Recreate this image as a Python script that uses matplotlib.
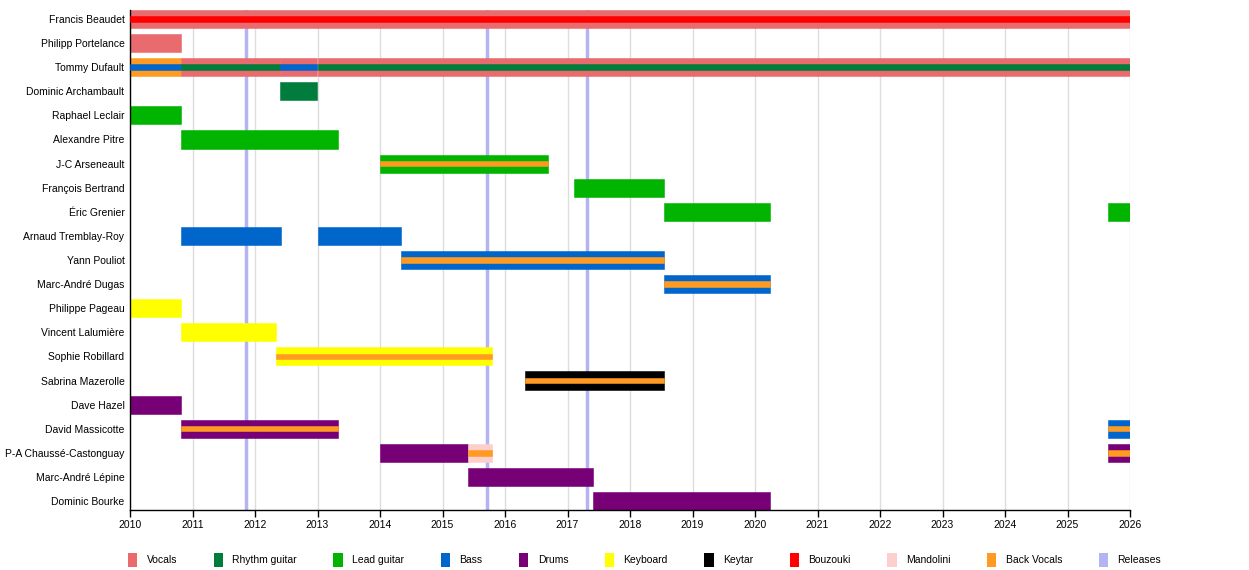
import matplotlib
matplotlib.use("Agg")
import matplotlib.pyplot as plt
from matplotlib.patches import Patch

plt.rcParams['font.family'] = ['Liberation Sans', 'DejaVu Sans']

# band members, top to bottom
members = [
    "Francis Beaudet", "Philipp Portelance", "Tommy Dufault", "Dominic Archambault",
    "Raphael Leclair", "Alexandre Pitre", "J-C Arseneault", "François Bertrand",
    "Éric Grenier", "Arnaud Tremblay-Roy", "Yann Pouliot", "Marc-André Dugas",
    "Philippe Pageau", "Vincent Lalumière", "Sophie Robillard", "Sabrina Mazerolle",
    "Dave Hazel", "David Massicotte", "P-A Chaussé-Castonguay", "Marc-André Lépine",
    "Dominic Bourke",
]

# one entry per bar: member, start, end, main instrument, inner stripe (or None)
seg_member = [
    "Francis Beaudet", "Philipp Portelance",
    "Tommy Dufault", "Tommy Dufault", "Tommy Dufault", "Tommy Dufault",
    "Dominic Archambault", "Raphael Leclair", "Alexandre Pitre", "J-C Arseneault",
    "François Bertrand", "Éric Grenier", "Éric Grenier",
    "Arnaud Tremblay-Roy", "Arnaud Tremblay-Roy", "Yann Pouliot", "Marc-André Dugas",
    "Philippe Pageau", "Vincent Lalumière", "Sophie Robillard", "Sabrina Mazerolle",
    "Dave Hazel", "David Massicotte", "David Massicotte",
    "P-A Chaussé-Castonguay", "P-A Chaussé-Castonguay", "P-A Chaussé-Castonguay",
    "Marc-André Lépine", "Dominic Bourke",
]
seg_start = [
    2010.0, 2010.0,
    2010.0, 2010.82, 2012.4, 2013.0,
    2012.4, 2010.0, 2010.82, 2014.0,
    2017.1, 2018.55, 2025.65,
    2010.82, 2013.0, 2014.33, 2018.55,
    2010.0, 2010.82, 2012.34, 2016.32,
    2010.0, 2010.82, 2025.65,
    2014.0, 2015.41, 2025.65,
    2015.41, 2017.41,
]
seg_end = [
    2026.0, 2010.82,
    2010.82, 2012.4, 2013.0, 2026.0,
    2013.0, 2010.82, 2013.33, 2016.69,
    2018.55, 2020.24, 2026.0,
    2012.42, 2014.34, 2018.55, 2020.24,
    2010.82, 2012.34, 2015.79, 2018.55,
    2010.82, 2013.33, 2026.0,
    2015.41, 2015.79, 2026.0,
    2017.41, 2020.24,
]
seg_main = [
    "Vocals", "Vocals",
    "Back Vocals", "Vocals", "Vocals", "Vocals",
    "Rhythm guitar", "Lead guitar", "Lead guitar", "Lead guitar",
    "Lead guitar", "Lead guitar", "Lead guitar",
    "Bass", "Bass", "Bass", "Bass",
    "Keyboard", "Keyboard", "Keyboard", "Keytar",
    "Drums", "Drums", "Bass",
    "Drums", "Mandolini", "Drums",
    "Drums", "Drums",
]
seg_inner = [
    "Bouzouki", None,
    "Bass", "Rhythm guitar", "Bass", "Rhythm guitar",
    None, None, None, "Back Vocals",
    None, None, None,
    None, None, "Back Vocals", "Back Vocals",
    None, None, "Back Vocals", "Back Vocals",
    None, "Back Vocals", "Back Vocals",
    None, "Back Vocals", "Back Vocals",
    None, None,
]

releases = [2011.86, 2015.71, 2017.31]
years = list(range(2010, 2027))

colors = {
    "Vocals": "#ea6b6e",
    "Rhythm guitar": "#007d3c",
    "Lead guitar": "#00b400",
    "Bass": "#0066cc",
    "Drums": "#770077",
    "Keyboard": "#ffff00",
    "Keytar": "#000000",
    "Bouzouki": "#ff0000",
    "Mandolini": "#fccfcc",
    "Back Vocals": "#ff9a22",
    "Releases": "#b4b4f4",
}

fig = plt.figure(figsize=(12.49, 5.70), dpi=100)
ax = fig.add_axes([130 / 1249, 60 / 570, 1000 / 1249, 500 / 570])

row = {m: i for i, m in enumerate(members)}

for y in years:
    ax.axvline(y, color="#dddddd", lw=1, zorder=0)
for r in releases:
    ax.axvline(r, color=colors["Releases"], lw=2.5, zorder=1)

for m, s, e, main, inner in zip(seg_member, seg_start, seg_end, seg_main, seg_inner):
    y = row[m]
    ax.barh(y, e - s, left=s, height=0.75, color=colors[main],
            edgecolor=colors[main], lw=0.4, zorder=2)
    if inner:
        ax.barh(y, e - s, left=s, height=0.22, color=colors[inner],
                edgecolor=colors[inner], lw=0.4, zorder=3)

ax.set_xlim(2010, 2026)
ax.set_ylim(20.37, -0.37)
ax.set_yticks(range(len(members)))
ax.set_yticklabels(members, fontsize=7.5)
ax.tick_params(axis="y", length=0, pad=4)
ax.set_xticks(years)
ax.set_xticklabels([str(y) for y in years], fontsize=7.5)
ax.tick_params(axis="x", length=5, width=1, direction="out", pad=2)
for side in ["top", "right"]:
    ax.spines[side].set_visible(False)
ax.spines["left"].set_linewidth(1)
ax.spines["bottom"].set_linewidth(1)

legend_names = ["Vocals", "Rhythm guitar", "Lead guitar", "Bass", "Drums", "Keyboard",
                "Keytar", "Bouzouki", "Mandolini", "Back Vocals", "Releases"]
handles = [Patch(facecolor=colors[n], edgecolor="none") for n in legend_names]
fig.legend(handles, legend_names, loc="center", bbox_to_anchor=(0.516, 1 - 560 / 570),
           ncol=len(legend_names), frameon=False, fontsize=7.5,
           handlelength=0.9, handleheight=1.6, handletextpad=0.9, columnspacing=3.5)

fig.savefig("out.png", dpi=100)
